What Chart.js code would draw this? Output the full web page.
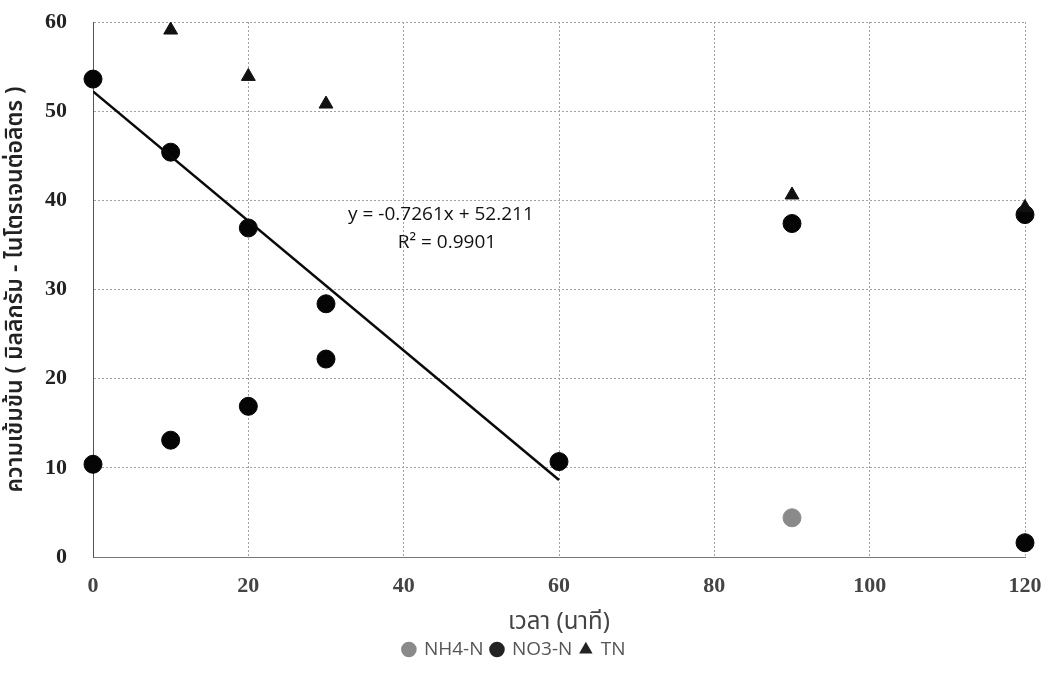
<!DOCTYPE html>
<html><head><meta charset="utf-8">
<script src="https://cdn.jsdelivr.net/npm/chart.js@4.4.1/dist/chart.umd.min.js"></script>
<style>html,body{margin:0;padding:0;background:#fff}#wrap{width:1058px;height:675px}</style>
</head><body><div id="wrap"><canvas id="c" width="1058" height="675"></canvas></div>
<script>
// ---- data ----
const timeMin = [0, 10, 20, 30, 60, 90, 120];
const nh4 = [53.6, 45.4, 36.9, 28.4, 10.7, 4.4, 1.6];
const no3 = [10.4, 13.1, 16.9, 22.2, null, 37.4, 38.4];
const tn  = [null, 59.1, 53.9, 50.8, null, 40.6, 39.2];
const seriesNames = ['NH4-N', 'NO3-N', 'TN'];
const xTicks = [0, 20, 40, 60, 80, 100, 120];
const yTicks = [0, 10, 20, 30, 40, 50, 60];
const trendSlope = -0.7261;
const trendIntercept = 52.211;
const trendRange = [0, 60];
const eqLines = ['y = -0.7261x + 52.211', 'R\u00B2 = 0.9901'];
const eqAnchor = [44.8, 38.4];
const xTitle = 'เวลา (นาที)';
const yTitle = 'ความเข้มข้น ( มิลลิกรัม - ไนโตรเจนต่อลิตร )';

const pts = (ys) => timeMin.map((t, i) => ({x: t, y: ys[i]})).filter(p => p.y !== null);
const nh4Colors = timeMin.map(t => t === 90 ? '#8a8a8a' : '#050505');
const trendData = trendRange.map(x => ({x: x, y: trendSlope * x + trendIntercept}));

const thai = '"Noto Sans Thai", "Noto Sans", "DejaVu Sans", sans-serif';
const tickFont = '"Liberation Serif", "DejaVu Serif", serif';

const eqPlugin = {
  id: 'eq',
  afterDatasetsDraw(chart) {
    const {ctx, scales} = chart;
    const x = scales.x.getPixelForValue(eqAnchor[0]);
    const y = scales.y.getPixelForValue(eqAnchor[1]);
    ctx.save();
    ctx.fillStyle = '#111';
    ctx.font = '19px "Open Sans", sans-serif';
    ctx.textAlign = 'center';
    ctx.textBaseline = 'middle';
    ctx.fillText(eqLines[0], x, y);
    ctx.fillText(eqLines[1], x + 6, y + 28);
    ctx.restore();
  }
};

new Chart(document.getElementById('c'), {
  type: 'scatter',
  data: {
    datasets: [
      {label: seriesNames[0], data: pts(nh4), backgroundColor: nh4Colors, borderColor: nh4Colors,
       pointStyle: 'circle', pointRadius: 9, clip: false, order: 3},
      {label: seriesNames[1], data: pts(no3), backgroundColor: '#050505', borderColor: '#050505',
       pointStyle: 'circle', pointRadius: 9, clip: false, order: 3},
      {label: seriesNames[2], data: pts(tn), backgroundColor: '#111', borderColor: '#111',
       pointStyle: 'triangle', pointRadius: 8, clip: false, order: 0},
      {type: 'line', label: 'trend', data: trendData, borderColor: '#0a0a0a', borderWidth: 2.5,
       pointRadius: 0, showLine: true, fill: false, order: 1}
    ]
  },
  options: {
    responsive: false,
    animation: false,
    devicePixelRatio: 1,
    layout: {autoPadding: false, padding: {top: 22, right: 33, left: 4, bottom: 6}},
    plugins: {
      tooltip: {enabled: false},
      legend: {
        position: 'bottom',
        labels: {
          usePointStyle: true,
          boxWidth: 11, boxHeight: 11,
          color: '#555',
          padding: 8,
          font: {size: 19, family: '"Open Sans", sans-serif'},
          generateLabels: () => [
            {text: seriesNames[0], fillStyle: '#8a8a8a', strokeStyle: '#8a8a8a', pointStyle: 'circle', datasetIndex: 0, fontColor: '#555', lineWidth: 0},
            {text: seriesNames[1], fillStyle: '#222', strokeStyle: '#222', pointStyle: 'circle', datasetIndex: 1, fontColor: '#555', lineWidth: 0},
            {text: seriesNames[2], fillStyle: '#222', strokeStyle: '#222', pointStyle: 'triangle', datasetIndex: 2, fontColor: '#555', lineWidth: 0}
          ]
        }
      }
    },
    scales: {
      x: {
        type: 'linear', min: 0, max: 120,
        afterBuildTicks: (s) => { s.ticks = xTicks.map(v => ({value: v})); },
        ticks: {color: '#444', padding: 0, font: {size: 22, weight: 'bold', family: tickFont}},
        grid: {color: '#a0a0a0', borderDash: [2, 4], drawTicks: true, tickLength: 16, tickColor: 'rgba(0,0,0,0)'},
        border: {color: '#777', dash: [2, 2]},
        title: {display: true, text: xTitle, color: '#444', padding: {top: 4, bottom: -7},
                font: {size: 24, family: thai}},
        afterFit: (s) => { s.height = 75; }
      },
      y: {
        type: 'linear', min: 0, max: 60,
        afterBuildTicks: (s) => { s.ticks = yTicks.map(v => ({value: v})); },
        ticks: {color: '#222', padding: 0, font: {size: 22, weight: 'bold', family: tickFont}},
        grid: {color: '#a0a0a0', borderDash: [2, 4], drawTicks: true, tickLength: 26, tickColor: 'rgba(0,0,0,0)'},
        border: {color: '#555', dash: [2, 2]},
        title: {display: true, text: yTitle, color: '#222', padding: {top: 0, bottom: 2},
                font: {size: 23, weight: '600', family: thai}},
        afterFit: (s) => { s.width = 89; }
      }
    }
  },
  plugins: [eqPlugin]
});
</script></body></html>
